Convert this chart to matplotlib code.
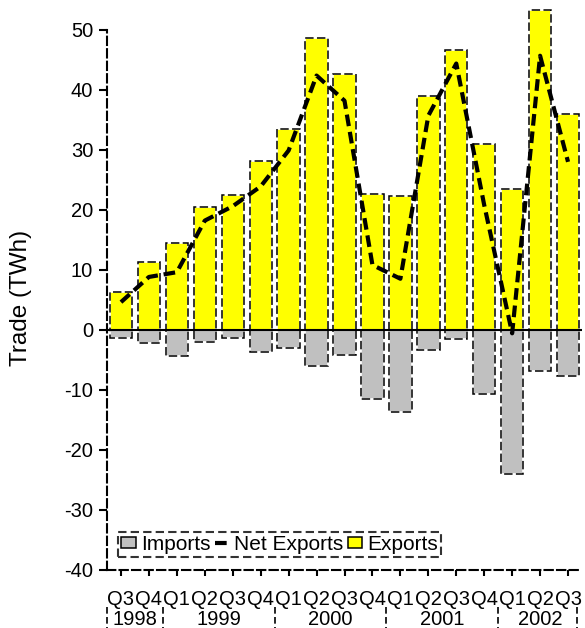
import matplotlib
matplotlib.use("Agg")
import matplotlib.pyplot as plt
import matplotlib.transforms as mtransforms
from matplotlib.patches import Patch
from matplotlib.lines import Line2D

plt.rcParams['font.family'] = ['Liberation Sans', 'DejaVu Sans']

# Quarterly electricity trade, Q3 1998 - Q3 2002 (TWh)
quarters = ["Q3", "Q4", "Q1", "Q2", "Q3", "Q4", "Q1", "Q2", "Q3", "Q4",
            "Q1", "Q2", "Q3", "Q4", "Q1", "Q2", "Q3"]
years = ["1998", "1999", "2000", "2001", "2002"]
year_spans = [(0, 1), (2, 5), (6, 9), (10, 13), (14, 16)]

exports = [6.3, 11.3, 14.4, 20.4, 22.4, 28.1, 33.4, 48.6, 42.7, 22.7,
           22.3, 39.0, 46.7, 30.9, 23.4, 53.4, 35.9]
imports = [-1.3, -2.3, -4.4, -2.0, -1.3, -3.7, -3.0, -6.0, -4.3, -11.6,
           -13.7, -3.4, -1.6, -10.7, -24.0, -6.9, -7.7]
net_exports = [4.6, 8.8, 9.6, 18.2, 20.6, 23.9, 29.9, 42.4, 38.2, 10.8,
               8.5, 35.7, 44.4, 20.8, -0.6, 45.7, 28.0]

yticks = [-40, -30, -20, -10, 0, 10, 20, 30, 40, 50]

W, H = 585, 628
fig = plt.figure(figsize=(W / 100, H / 100), dpi=100)
ax = fig.add_axes([107 / W, (H - 569.5) / H, 475 / W, 569.5 / H])

x = list(range(len(quarters)))
bar_w = 0.8
edge_dash = (0, (5.5, 2.2))

# bars: coloured body with white edge, then a black dashed outline on top
ax.bar(x, exports, width=bar_w, color="#ffff00", edgecolor="white",
       linewidth=1.2, zorder=2)
ax.bar(x, imports, width=bar_w, color="#c0c0c0", edgecolor="white",
       linewidth=1.2, zorder=2)
ax.bar(x, exports, width=bar_w, fill=False, edgecolor="black",
       linewidth=1.1, linestyle=edge_dash, zorder=2.5)
ax.bar(x, imports, width=bar_w, fill=False, edgecolor="black",
       linewidth=1.1, linestyle=edge_dash, zorder=2.5)

ax.axhline(0, color="black", linewidth=1.5, zorder=3)

ax.plot(x, net_exports, color="black", linewidth=3.0,
        linestyle=(0, (2.8, 1.4)), zorder=4, solid_capstyle="butt")

ax.set_xlim(-0.5, 16.5)
ax.set_ylim(-40, 55)
ax.set_yticks(yticks)
ax.set_yticklabels([str(v) for v in yticks])
ax.set_xticks(x)
ax.set_xticklabels(quarters)

for side in ("top", "right"):
    ax.spines[side].set_visible(False)
for side in ("left", "bottom"):
    ax.spines[side].set_linestyle((0, (4, 2)))
    ax.spines[side].set_linewidth(1.5)
ax.spines["left"].set_bounds(-40, 50)

ax.tick_params(axis="y", length=6, width=1.5, pad=4, labelsize=14.5,
               colors="black")
ax.tick_params(axis="x", length=4.5, width=1.5, pad=10, labelsize=14.5,
               colors="black")

ax.set_ylabel("Trade (TWh)", fontsize=17.5)
ax.yaxis.set_label_coords(-0.158, 0.477)

# year labels and group separators below the quarter labels
trans = mtransforms.blended_transform_factory(ax.transData, ax.transAxes)
for yr, (a, b) in zip(years, year_spans):
    ax.text((a + b) / 2, -0.087, yr, transform=trans, ha="center",
            va="center", fontsize=14.5, clip_on=False)
for sx in [-0.5, 1.5, 5.5, 9.5, 13.5, 16.32]:
    ax.plot([sx, sx], [-0.066, -0.11], transform=trans, color="black",
            linewidth=1.2, linestyle=(0, (4, 2)), clip_on=False)

handles = [
    Patch(facecolor="#c0c0c0", edgecolor="black", linewidth=1.1),
    Line2D([], [], color="black", linewidth=3.0, linestyle=(0, (2.8, 1.4))),
    Patch(facecolor="#ffff00", edgecolor="black", linewidth=1.1),
]
leg = ax.legend(handles, ["Imports", "Net Exports", "Exports"], ncol=3,
                loc="lower left", bbox_to_anchor=(0.023, 0.022),
                fontsize=15, frameon=True, fancybox=False,
                handlelength=0.7, handleheight=0.45, handletextpad=0.25,
                columnspacing=0.2, borderpad=0.15, borderaxespad=0)
frame = leg.get_frame()
frame.set_edgecolor("black")
frame.set_linewidth(1.5)
frame.set_linestyle((0, (4, 2)))
frame.set_facecolor("white")

fig.savefig("out.png", dpi=100)
